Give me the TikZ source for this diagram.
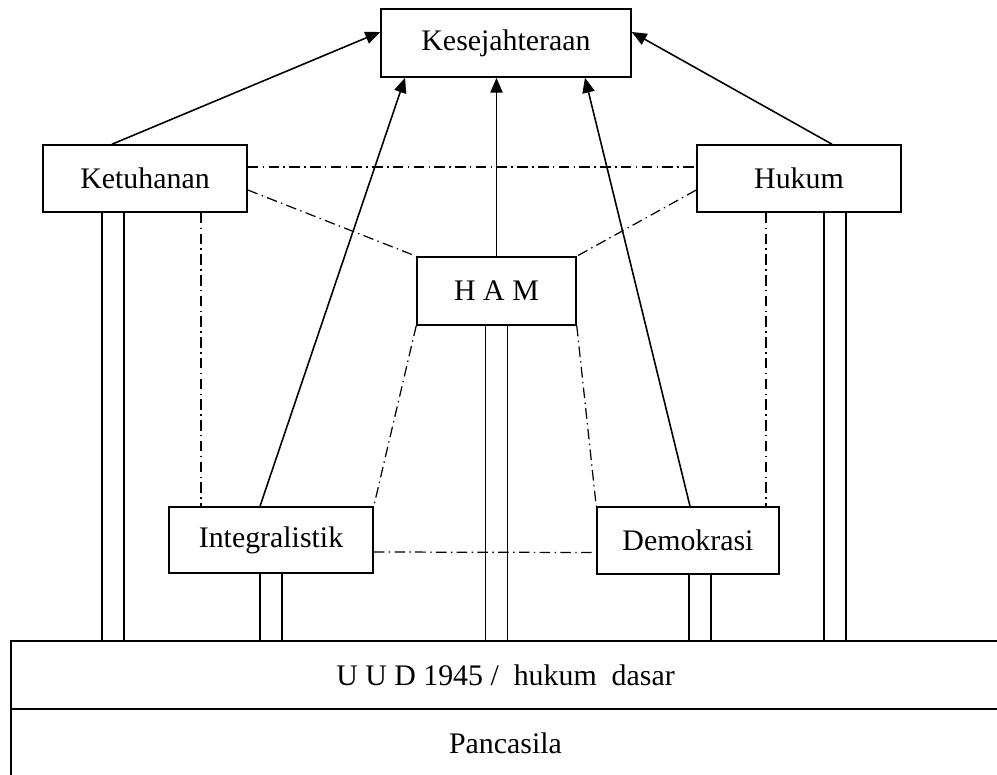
\documentclass[tikz,border=0pt]{standalone}
\usepackage{fontspec}
\setmainfont{Liberation Serif}
\usetikzlibrary{arrows.meta}

\begin{document}
\begin{tikzpicture}[x=0.02cm,y=-0.02cm,line width=0.9pt,
  box/.style={draw,inner sep=0pt,font=\fontsize{17}{20}\selectfont},
  link/.style={line width=0.7pt,dash pattern=on 6pt off 2.5pt on 0.8pt off 2.5pt},
  up/.style={-{Triangle[length=8.5pt,width=7pt]}}]
\useasboundingbox (0,0) rectangle (997,774);
\clip (0,0) rectangle (997,774);

% boxes
\node[box,minimum width=5cm,minimum height=1.36cm] (kes) at (506,43) {Kesejahteraan};
\node[box,minimum width=4.08cm,minimum height=1.34cm] (ket) at (145,178.5) {Ketuhanan};
\node[box,minimum width=4.08cm,minimum height=1.34cm] (hukum) at (799,178.5) {Hukum};
\node[box,minimum width=3.18cm,minimum height=1.36cm] (ham) at (496.5,291) {H A M};
\node[box,minimum width=4.08cm,minimum height=1.32cm] (integ) at (271,540) {Integralistik};
\node[box,minimum width=3.64cm,minimum height=1.34cm] (demo) at (688,540.5) {Demokrasi};

% base
\node[box,minimum width=19.78cm,minimum height=1.36cm] (uud) at (505.5,675) {U U D 1945 /\ \ hukum\ \ dasar};
\node[box,minimum width=19.78cm,minimum height=1.38cm] (pancasila) at (505.5,743.5) {Pancasila};

% pillars
\foreach \n/\px in {ket/113, integ/271, ham/496.5, demo/700, hukum/835}
  \draw (\px-11,0 |- \n.south) -- (\px-11,0 |- uud.north)
        (\px+11,0 |- \n.south) -- (\px+11,0 |- uud.north);

% arrows to kesejahteraan
\draw[up] ([xshift=-0.66cm]ket.north) -- ([yshift=0.22cm]kes.west);
\draw[up] ([xshift=0.66cm]hukum.north) -- ([yshift=0.22cm]kes.east);
\draw[up] ([xshift=-0.22cm]integ.north) -- ([xshift=-2.02cm]kes.south);
\draw[up] (ham.north) -- (ham.north |- kes.south);
\draw[up] ([xshift=0.04cm]demo.north) -- ([xshift=1.58cm]kes.south);

% dash dot links
\draw[link] ([yshift=0.23cm]ket.east) -- ([yshift=0.23cm]hukum.west);
\draw[link] ([yshift=-0.23cm]ket.east) -- (ham.north west);
\draw[link] ([yshift=-0.23cm]hukum.west) -- (ham.north east);
\draw[link] (201,0 |- ket.south) -- (201,0 |- integ.north);
\draw[link] (766,0 |- hukum.south) -- (766,0 |- demo.north);
\draw[link] (ham.south west) -- (integ.north east);
\draw[link] (ham.south east) -- (demo.north west);
\draw[link] ([yshift=-0.24cm]integ.east) -- ([yshift=-0.24cm]demo.west);
\end{tikzpicture}
\end{document}
